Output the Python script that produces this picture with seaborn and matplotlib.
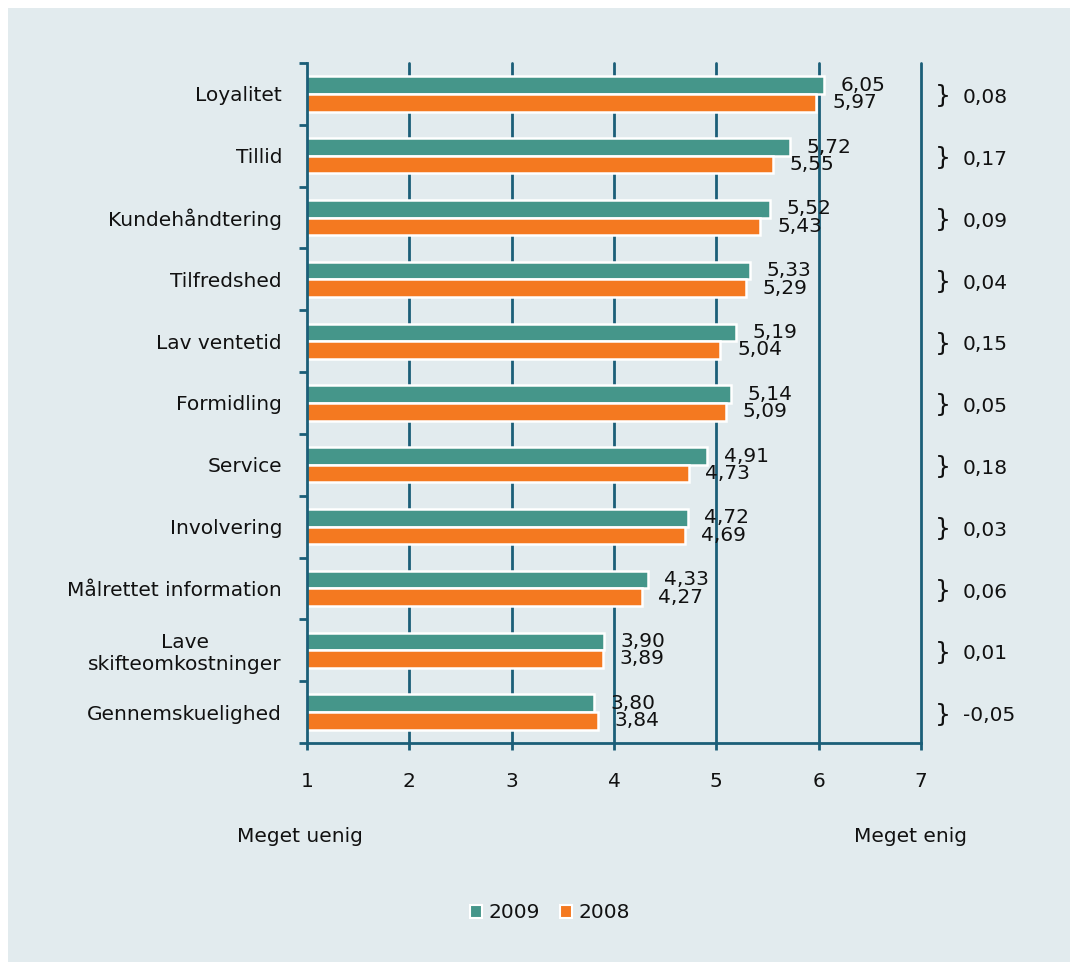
import matplotlib
matplotlib.use("Agg")
import matplotlib.pyplot as plt
from matplotlib.patches import Rectangle, Patch
from matplotlib.ticker import FixedLocator
import seaborn as sns
import pandas as pd
import numpy as np

categories = ["Loyalitet", "Tillid", "Kundehåndtering", "Tilfredshed", "Lav ventetid",
              "Formidling", "Service", "Involvering", "Målrettet information",
              "Lave\nskifteomkostninger", "Gennemskuelighed"]
values_2009 = [6.05, 5.72, 5.52, 5.33, 5.19, 5.14, 4.91, 4.72, 4.33, 3.90, 3.80]
values_2008 = [5.97, 5.55, 5.43, 5.29, 5.04, 5.09, 4.73, 4.69, 4.27, 3.89, 3.84]
diff_labels = ["0,08", "0,17", "0,09", "0,04", "0,15", "0,05", "0,18", "0,03", "0,06", "0,01", "-0,05"]
series = ["2009", "2008"]
x_ticks = [1, 2, 3, 4, 5, 6, 7]

TEAL = "#45968A"
ORANGE = "#F47920"
BG = "#E2EBEE"
GRID = "#1B5E78"
TXT = "#111111"
FS = 14.5

sns.set_theme(style="white")
plt.rcParams["font.family"] = ["DejaVu Sans"]

df = pd.DataFrame({
    "Kategori": categories * 2,
    "Værdi": values_2009 + values_2008,
    "År": ["2009"] * len(categories) + ["2008"] * len(categories),
})

fig = plt.figure(figsize=(10.78, 9.67), dpi=100)
fig.patch.set_facecolor("white")
fig.patches.append(Rectangle((8 / 1078, 1 - 962 / 967), 1062 / 1078, 954 / 967,
                             transform=fig.transFigure, facecolor=BG, edgecolor="none", zorder=-10))

ax = fig.add_axes([307 / 1078, 1 - 743 / 967, 614 / 1078, 680 / 967])
ax.set_facecolor(BG)
ax.patch.set_alpha(0)

# gridlines (below bars)
for xv in x_ticks[1:]:
    ax.axvline(xv, color=GRID, lw=2, zorder=0, clip_on=False)

sns.barplot(data=df, y="Kategori", x="Værdi", hue="År", hue_order=series,
            order=categories, palette=[TEAL, ORANGE], saturation=1, width=0.57, orient="h",
            edgecolor="white", linewidth=1.8, ax=ax, legend=False, zorder=2)

ax.set_xlim(1, 7)
ax.set_ylim(len(categories) - 0.5, -0.5)
ax.set_xlabel("")
ax.set_ylabel("")

for s in ["top", "right"]:
    ax.spines[s].set_visible(False)
for s in ["left", "bottom"]:
    ax.spines[s].set_color(GRID)
    ax.spines[s].set_linewidth(2)
    ax.spines[s].set_zorder(3)

ax.set_xticks(x_ticks)
ax.set_xticklabels([str(v) for v in x_ticks])
ax.tick_params(axis="x", length=5, width=2, color=GRID, pad=16, labelsize=FS, labelcolor=TXT,
               direction="out", bottom=True)
ax.set_yticks(range(len(categories)))
ax.set_yticklabels(categories)
ax.tick_params(axis="y", which="major", length=0, pad=18, labelsize=FS, labelcolor=TXT, left=True)
ax.yaxis.set_minor_locator(FixedLocator(np.arange(-0.5, len(categories), 1.0)))
ax.tick_params(axis="y", which="minor", length=6, width=2, color=GRID, left=True, direction="out")
for lbl in ax.get_yticklabels():
    lbl.set_multialignment("center")

# value labels
off = 0.14
for i in range(len(categories)):
    ax.annotate(f"{values_2009[i]:.2f}".replace(".", ","), (values_2009[i], i - off),
                xytext=(12, 0), textcoords="offset points", ha="left", va="center",
                fontsize=FS, color=TXT, annotation_clip=False, zorder=4)
    ax.annotate(f"{values_2008[i]:.2f}".replace(".", ","), (values_2008[i], i + off),
                xytext=(12, 0), textcoords="offset points", ha="left", va="center",
                fontsize=FS, color=TXT, annotation_clip=False, zorder=4)
    ax.text(7.14, i + 0.04, "}", ha="left", va="center", fontsize=18, color=TXT, clip_on=False)
    ax.text(7.41, i + 0.06, diff_labels[i], ha="left", va="center", fontsize=FS, color=TXT, clip_on=False)

fig.text(237 / 1078, 1 - 837 / 967, "Meget uenig", ha="left", va="center", fontsize=FS, color=TXT)
fig.text(967 / 1078, 1 - 837 / 967, "Meget enig", ha="right", va="center", fontsize=FS, color=TXT)

handles = [Patch(facecolor=TEAL, edgecolor="white", linewidth=1.5),
           Patch(facecolor=ORANGE, edgecolor="white", linewidth=1.5)]
fig.legend(handles, series, loc="center", bbox_to_anchor=(550 / 1078, 1 - 913 / 967), ncol=2,
           frameon=False, fontsize=FS, handlelength=0.6, handleheight=0.6, handletextpad=0.3,
           columnspacing=1.0, labelcolor=TXT)

fig.savefig("out.png", dpi=100)
